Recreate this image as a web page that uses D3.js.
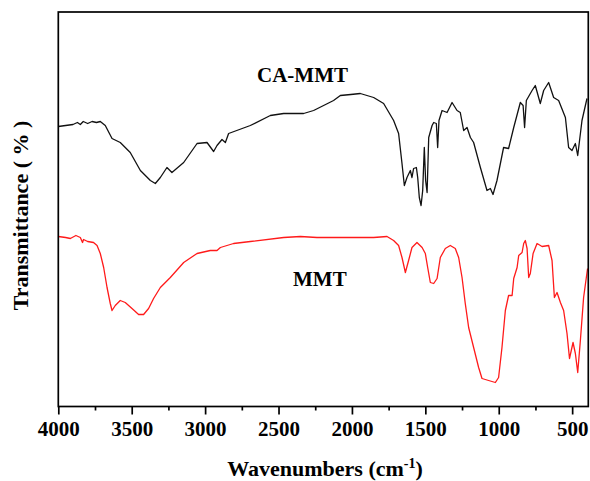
<!DOCTYPE html>
<html>
<head>
<meta charset="utf-8">
<script src="https://cdn.jsdelivr.net/npm/d3@7"></script>
<style>
  html, body { margin: 0; padding: 0; background: #fff; }
  svg { display: block; }
</style>
</head>
<body>
<svg id="chart" width="590" height="481"></svg>
<script>
// ---- Data (wavenumber cm^-1, transmittance in arbitrary units) ----
const caMmtWavenumbers = [4000,3950,3900,3870,3850,3830,3800,3770,3740,3714,3680,3634,3578,3510,3441,3373,3339,3305,3260,3226,3146,3055,2987,2942,2919,2885,2862,2840,2692,2556,2465,2329,2261,2125,2079,2008,1943,1852,1784,1716,1682,1659,1643,1625,1602,1591,1580,1561,1552,1541,1529,1518,1507,1498,1488,1477,1454,1443,1425,1416,1407,1386,1352,1318,1284,1262,1239,1216,1193,1171,1125,1080,1057,1039,1012,967,933,898,853,834,824,812,773,751,717,694,660,626,592,546,524,501,478,462,433,399];
const caMmtValues      = [280,281,282,284,282,285,283,285,284,285,281,268,264,254,236,226,223,229,239,234,244,263,264,255,261,267,264,273,281,291,293,293,296,306,311,312,313,309,303,286,273,243,221,229,236,229,238,239,229,209,201,216,259,226,214,269,281,284,283,259,286,296,294,304,296,294,276,279,269,264,239,216,218,212,226,259,258,279,304,301,279,306,316,321,303,316,324,309,306,289,259,256,263,251,286,308];

const mmtWavenumbers = [4000,3950,3918,3880,3850,3835,3828,3800,3760,3736,3714,3691,3668,3646,3634,3612,3578,3544,3498,3453,3419,3385,3351,3305,3237,3146,3055,2965,2919,2896,2806,2692,2465,2351,2238,2011,1943,1852,1761,1716,1682,1659,1636,1614,1591,1557,1522,1500,1484,1466,1443,1420,1398,1364,1330,1296,1273,1250,1228,1205,1171,1137,1114,1069,1023,1001,978,955,933,909,898,875,864,841,830,819,807,796,785,766,739,705,660,637,621,603,580,558,535,518,494,478,462,444,422,395];
const mmtValues      = [170,169,168,171,169,164,167,165,164,161,153,139,119,103,96,101,106,104,98,92,92,98,108,119,129,144,153,156,156,159,163,165,169,170,169,169,169,169,170,166,161,149,134,146,159,164,159,153,139,124,123,128,149,158,161,158,149,129,103,79,59,39,28,26,24,29,59,96,111,111,128,139,151,154,163,166,158,129,133,153,163,160,161,146,109,114,104,96,73,48,64,53,34,66,109,138];

const xTickValues = [4000,3750,3500,3250,3000,2750,2500,2250,2000,1750,1500,1250,1000,750,500];
const seriesNames = ["CA-MMT", "MMT"];
const seriesColors = ["#111111", "#ff1a1a"];

// ---- Layout ----
const svg = d3.select("#chart");
const plotLeft = 58.3, plotRight = 588.3, plotTop = 12, plotBottom = 406.5;

const x = d3.scaleLinear().domain([4000, 390]).range([plotLeft, plotRight]);
const y = d3.scaleLinear().domain([0, 394.5]).range([plotBottom, plotTop]);

const fontFam = "'Liberation Serif', 'Times New Roman', serif";

// lines
const line = d3.line().x(d => x(d[0])).y(d => y(d[1]));
const caData = d3.zip(caMmtWavenumbers, caMmtValues);
const mmtData = d3.zip(mmtWavenumbers, mmtValues);

svg.append("path").datum(caData)
  .attr("d", line).attr("fill", "none")
  .attr("stroke", seriesColors[0]).attr("stroke-width", 1.3)
  .attr("stroke-linejoin", "round");
svg.append("path").datum(mmtData)
  .attr("d", line).attr("fill", "none")
  .attr("stroke", seriesColors[1]).attr("stroke-width", 1.3)
  .attr("stroke-linejoin", "round");

// frame
svg.append("rect")
  .attr("x", plotLeft).attr("y", plotTop)
  .attr("width", plotRight - plotLeft).attr("height", plotBottom - plotTop)
  .attr("fill", "none").attr("stroke", "#000").attr("stroke-width", 1.7);

// x axis
const xAxis = d3.axisBottom(x)
  .tickValues(xTickValues)
  .tickSize(8)
  .tickFormat(d => d % 500 === 0 ? d : "");
const gx = svg.append("g")
  .attr("transform", `translate(0,${plotBottom})`)
  .call(xAxis)
  .attr("font-family", fontFam)
  .attr("font-size", 21)
  .attr("font-weight", "bold");
gx.select(".domain").remove();
gx.selectAll(".tick line")
  .attr("stroke", "#000").attr("stroke-width", 1.7)
  .attr("y2", d => d % 500 === 0 ? 8 : 4);
gx.selectAll(".tick text")
  .attr("y", 29.5).attr("dy", null)
  .attr("fill", "#000")
  .style("font-family", fontFam)
  .style("font-weight", "bold")
  .style("font-size", "21px");

// axis titles
const xt = svg.append("text")
  .attr("x", (221.7 + 428.3) / 2).attr("y", 476)
  .attr("text-anchor", "middle")
  .style("font-family", fontFam).style("font-weight", "bold").style("font-size", "22px");
xt.append("tspan").text("Wavenumbers (cm");
xt.append("tspan").attr("dy", -8).style("font-size", "14px").text("-1");
xt.append("tspan").attr("dy", 8).text(")");

svg.append("text")
  .attr("transform", "translate(28,215.5) rotate(-90)")
  .attr("text-anchor", "middle")
  .style("font-family", fontFam).style("font-weight", "bold").style("font-size", "22px")
  .text("Transmittance ( % )");

// series labels
svg.append("text")
  .attr("x", 257).attr("y", 82.3)
  .style("font-family", fontFam).style("font-weight", "bold").style("font-size", "21px")
  .text(seriesNames[0]);
svg.append("text")
  .attr("x", 293).attr("y", 286)
  .style("font-family", fontFam).style("font-weight", "bold").style("font-size", "21px")
  .text(seriesNames[1]);
</script>
</body>
</html>
